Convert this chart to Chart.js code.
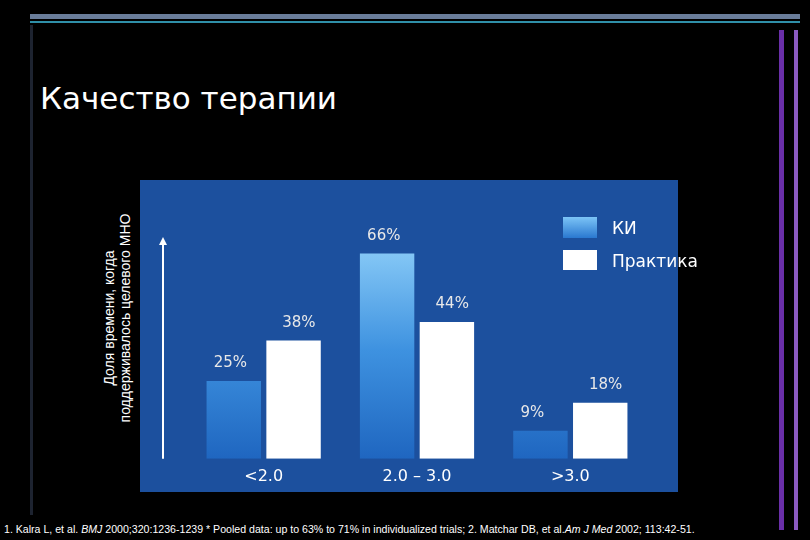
<!DOCTYPE html>
<html><head><meta charset="utf-8">
<script src="https://cdn.jsdelivr.net/npm/chart.js@4"></script>
<style>
body{margin:0;background:#000;width:810px;height:540px;overflow:hidden;position:relative;font-family:"DejaVu Sans",sans-serif;color:#fff}
.d{position:absolute}
</style></head><body>
<div class="d" style="left:30px;top:14px;width:770px;height:5px;background:#6a7d9a"></div>
<div class="d" style="left:30px;top:21px;width:770px;height:2px;background:#2f8fa8"></div>
<div class="d" style="left:30px;top:25px;width:3px;height:490px;background:#1d2330"></div>
<div class="d" style="left:779px;top:30px;width:5px;height:500px;background:#6a2fa8"></div>
<div class="d" style="left:794px;top:30px;width:4px;height:500px;background:#8a5ac0"></div>
<div class="d" style="left:40px;top:80px;font-size:31px">Качество терапии</div>
<div class="d" style="left:117px;top:318px;width:270px;transform:translate(-50%,-50%) rotate(-90deg);font-size:14px;text-align:center;line-height:16px;font-family:'Liberation Sans',sans-serif">Доля времени, когда<br>поддерживалось целевого МНО</div>
<div class="d" style="left:140px;top:180px;width:538px;height:312px;background:#1c509e"><canvas id="c" width="538" height="312"></canvas></div>
<div class="d" style="left:563px;top:217px;width:34px;height:21px;background:linear-gradient(#7cc4f6,#2a78d0)"></div>
<div class="d" style="left:563px;top:250px;width:34px;height:20px;background:#fff"></div>
<div class="d" style="left:612px;top:218px;font-size:17px">КИ</div>
<div class="d" style="left:612px;top:251px;font-size:17px">Практика</div>
<div class="d" style="left:4px;top:523px;font-size:10.6px;font-family:'Liberation Sans',sans-serif;white-space:nowrap">1. Kalra L, et al. <i>BMJ</i> 2000;320:1236-1239 * Pooled data: up to 63% to 71% in individualized trials; 2. Matchar DB, et al.<i>Am J Med</i> 2002; 113:42-51.</div>
<script>
var categories = ["<2.0", "2.0 – 3.0", ">3.0"];
var kiValues = [25, 66, 9];
var practiceValues = [38, 44, 18];
var seriesNames = ["КИ", "Практика"];

function blueGrad(ctx) {
	var a = ctx.chart.chartArea;
	if (!a) return "#4aa0e8";
	var g = ctx.chart.ctx.createLinearGradient(0, a.top, 0, a.bottom);
	g.addColorStop(0, "#8ccdf8");
	g.addColorStop(0.5, "#3e92e0");
	g.addColorStop(1, "#1f66c0");
	return g;
}

var extras = {
	id: "extras",
	afterDatasetsDraw: function(chart) {
		var c = chart.ctx, a = chart.chartArea;
		c.save();
		c.strokeStyle = "#fff"; c.fillStyle = "#fff"; c.lineWidth = 2;
		var x = a.left - 24;
		c.beginPath(); c.moveTo(x, a.bottom); c.lineTo(x, a.top - 2); c.stroke();
		c.beginPath(); c.moveTo(x - 4, a.top + 4); c.lineTo(x, a.top - 4); c.lineTo(x + 4, a.top + 4); c.fill();
		c.font = "15px 'DejaVu Sans'"; c.fillStyle = "#e8e8e8"; c.textBaseline = "bottom";
		chart.data.datasets.forEach(function(ds, i) {
			chart.getDatasetMeta(i).data.forEach(function(bar, j) {
				c.textAlign = i == 0 ? "left" : "right";
				var tx = i == 0 ? bar.x - 20 : bar.x + 22;
				c.fillText(ds.data[j] + "%", tx, bar.y - 10);
			});
		});
		c.restore();
	}
};

new Chart(document.getElementById("c"), {
	type: "bar",
	data: {
		labels: categories,
		datasets: [
			{ label: seriesNames[0], data: kiValues, backgroundColor: blueGrad },
			{ label: seriesNames[1], data: practiceValues, backgroundColor: "#ffffff" }
		]
	},
	options: {
		responsive: false,
		animation: false,
		layout: { padding: { left: 47, right: 31, top: 61, bottom: 6 } },
		plugins: { legend: { display: false }, tooltip: { enabled: false } },
		datasets: { bar: { categoryPercentage: 0.78, barPercentage: 0.91 } },
		scales: {
			x: { grid: { display: false }, border: { display: false },
				ticks: { color: "#fff", font: { size: 16, family: "DejaVu Sans" }, padding: 0 } },
			y: { display: false, min: 0, max: 70 }
		}
	},
	plugins: [extras]
});
</script>
</body></html>
